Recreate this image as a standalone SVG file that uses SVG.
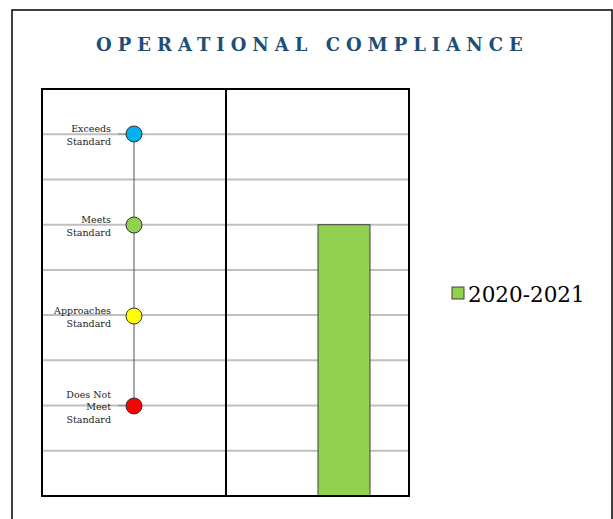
<svg xmlns="http://www.w3.org/2000/svg" width="613" height="519" viewBox="0 0 613 519">
<style>
.t{font-family:"DejaVu Serif","Liberation Serif",serif;}
.title{font-size:18px;font-weight:bold;fill:#1f4e79;letter-spacing:6px;}
.lbl{font-size:9.5px;fill:#222;text-anchor:end;}
.grid{stroke:#bfbfbf;stroke-width:2;}
.dot{stroke:#333;stroke-width:1;}
</style>
<rect x="0" y="0" width="613" height="519" fill="#fff"/>
<rect x="12" y="10" width="600" height="520" fill="#fff" stroke="#000" stroke-width="1.5"/>
<text class="t title" x="96" y="50.5">OPERATIONAL COMPLIANCE</text>
<g id="grid">
<line class="grid" x1="42" y1="134.2" x2="409" y2="134.2"/>
<line class="grid" x1="42" y1="179.4" x2="409" y2="179.4"/>
<line class="grid" x1="42" y1="224.7" x2="409" y2="224.7"/>
<line class="grid" x1="42" y1="269.9" x2="409" y2="269.9"/>
<line class="grid" x1="42" y1="315.1" x2="409" y2="315.1"/>
<line class="grid" x1="42" y1="360.3" x2="409" y2="360.3"/>
<line class="grid" x1="42" y1="405.6" x2="409" y2="405.6"/>
<line class="grid" x1="42" y1="450.8" x2="409" y2="450.8"/>
</g>
<g id="connectors">
<line x1="134" y1="134" x2="134" y2="406" stroke="#555" stroke-width="1"/>
<line x1="118" y1="134.2" x2="134" y2="134.2" stroke="#999" stroke-width="1.5"/>
<line x1="118" y1="405.6" x2="134" y2="405.6" stroke="#999" stroke-width="1.5"/>
</g>
<g id="bar">
<rect x="318" y="224.7" width="52" height="271.3" fill="#92d050" stroke="#404040" stroke-width="1"/>
</g>
<g id="frame">
<rect x="42" y="89" width="367" height="407" fill="none" stroke="#000" stroke-width="2"/>
<line x1="226" y1="89" x2="226" y2="496" stroke="#000" stroke-width="2"/>
</g>
<g id="exceeds">
<circle class="dot" cx="134" cy="134" r="8" fill="#00b0f0"/>
<text class="t lbl" x="111" y="131.5">Exceeds</text>
<text class="t lbl" x="111" y="145">Standard</text>
</g>
<g id="meets">
<circle class="dot" cx="134" cy="225" r="8" fill="#92d050"/>
<text class="t lbl" x="111" y="223">Meets</text>
<text class="t lbl" x="111" y="236">Standard</text>
</g>
<g id="approaches">
<circle class="dot" cx="134" cy="316" r="8" fill="#ffff00"/>
<text class="t lbl" x="111" y="314">Approaches</text>
<text class="t lbl" x="111" y="326.5">Standard</text>
</g>
<g id="doesnotmeet">
<circle class="dot" cx="134" cy="406" r="8" fill="#ff0000"/>
<text class="t lbl" x="111" y="398">Does Not</text>
<text class="t lbl" x="111" y="410">Meet</text>
<text class="t lbl" x="111" y="422.5">Standard</text>
</g>
<g id="legend">
<rect x="452" y="287" width="12" height="12" fill="#92d050" stroke="#404040" stroke-width="1"/>
<text class="t" x="468" y="302" font-size="21.5" fill="#000">2020-2021</text>
</g>
</svg>
